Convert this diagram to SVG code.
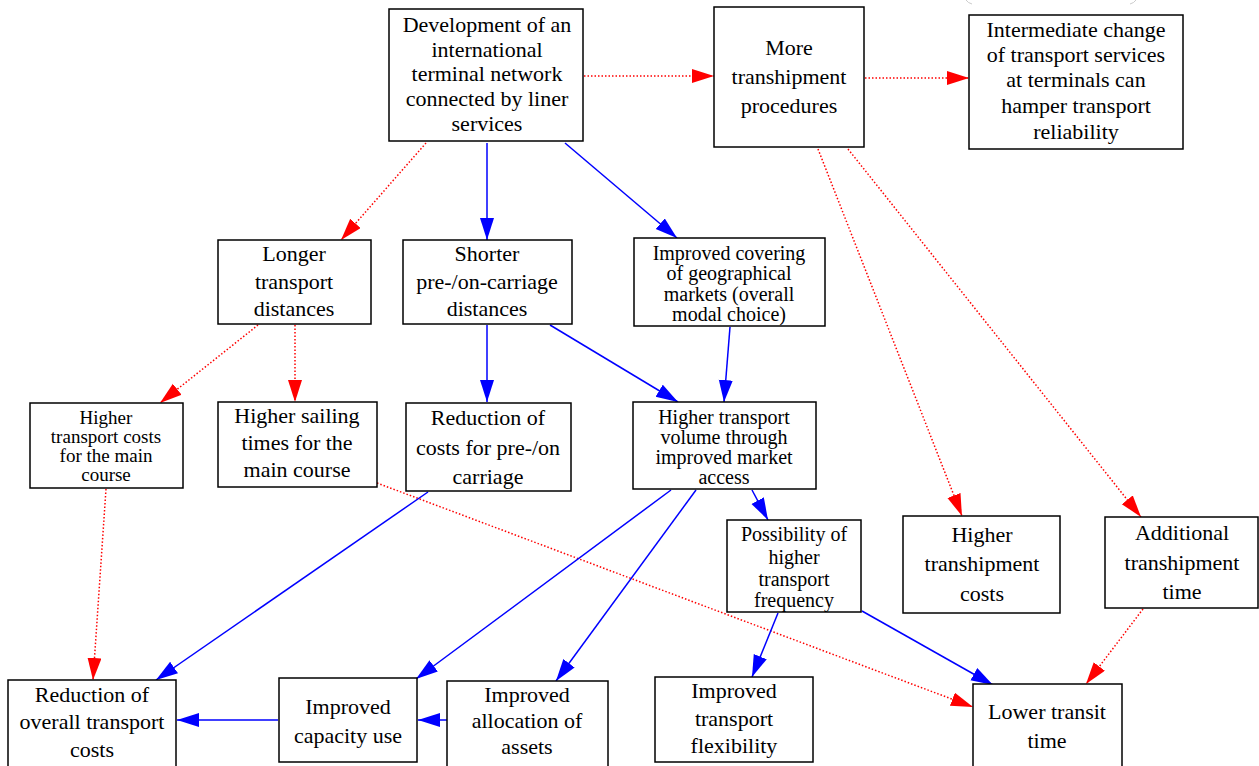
<svg xmlns="http://www.w3.org/2000/svg" width="1259" height="766" viewBox="0 0 1259 766">
  <style>
    .box { fill: #ffffff; stroke: #000000; stroke-width: 1.5; }
    .pos { fill: none; stroke: #0000ff; stroke-width: 1.5; marker-end: url(#headBlue); }
    .neg { fill: none; stroke: #ff0000; stroke-width: 1.5; stroke-dasharray: 1.5 2; marker-end: url(#headRed); }
  </style>
  <defs>
    <marker id="headBlue" markerUnits="userSpaceOnUse" markerWidth="24" markerHeight="16" refX="22" refY="7" orient="auto">
      <path d="M0,0 L22,7 L0,14 Z" fill="#0000ff"/>
    </marker>
    <marker id="headRed" markerUnits="userSpaceOnUse" markerWidth="24" markerHeight="16" refX="22" refY="7" orient="auto">
      <path d="M0,0 L22,7 L0,14 Z" fill="#ff0000"/>
    </marker>
  </defs>
  <rect width="1259" height="766" fill="#ffffff"/>

  <!-- clipped bracket marks at the top edge -->
  <path d="M966,0 Q968,3 972,4 M1136,0 Q1134,3 1130,4" fill="none" stroke="#cccccc" stroke-width="1"/>

  <g id="connectors">
    <!-- negative effects (red dotted) -->
    <path class="neg" d="M584,76 L714,76"/>
    <path class="neg" d="M865,78 L969,78"/>
    <path class="neg" d="M426,143 L341,240"/>
    <path class="neg" d="M818,149 L962,516"/>
    <path class="neg" d="M848,149 L1141,517"/>
    <path class="neg" d="M258,325 L160,403"/>
    <path class="neg" d="M295,325 L295,402"/>
    <path class="neg" d="M106,489 L93,680"/>
    <path class="neg" d="M377,483 L973,707"/>
    <path class="neg" d="M1143,609 L1086,684"/>
    <!-- positive effects (blue) -->
    <path class="pos" d="M487,143 L487,240"/>
    <path class="pos" d="M565,143 L677,238"/>
    <path class="pos" d="M487,325 L487,402"/>
    <path class="pos" d="M550,325 L678,402"/>
    <path class="pos" d="M730,327 L724,402"/>
    <path class="pos" d="M752,490 L768,520"/>
    <path class="pos" d="M428,492 L156,680"/>
    <path class="pos" d="M671,490 L416,679"/>
    <path class="pos" d="M696,490 L556,681"/>
    <path class="pos" d="M778,613 L752,677"/>
    <path class="pos" d="M862,611 L993,685"/>
    <path class="pos" d="M278,720 L177,720"/>
    <path class="pos" d="M447,720 L418,720"/>
  </g>

  <g id="nodes" font-family="Liberation Serif, Tinos, Times New Roman, DejaVu Serif, serif" font-size="22" fill="#000000" text-anchor="middle">
  <g id="n-development">
    <rect class="box" x="389" y="9" width="194" height="132"/>
    <text x="487" y="32">Development of an</text>
    <text x="487" y="57">international</text>
    <text x="487" y="81">terminal network</text>
    <text x="487" y="106">connected by liner</text>
    <text x="487" y="131">services</text>
  </g>
  <g id="n-more-transhipment">
    <rect class="box" x="714" y="7" width="150" height="140"/>
    <text x="789" y="55">More</text>
    <text x="789" y="84">transhipment</text>
    <text x="789" y="113">procedures</text>
  </g>
  <g id="n-intermediate-change">
    <rect class="box" x="969" y="15" width="214" height="134"/>
    <text x="1076" y="37">Intermediate change</text>
    <text x="1076" y="62">of transport services</text>
    <text x="1076" y="87">at terminals can</text>
    <text x="1076" y="113">hamper transport</text>
    <text x="1076" y="139">reliability</text>
  </g>
  <g id="n-longer-distances">
    <rect class="box" x="218" y="240" width="153" height="84"/>
    <text x="294" y="261">Longer</text>
    <text x="294" y="289">transport</text>
    <text x="294" y="316">distances</text>
  </g>
  <g id="n-shorter-carriage">
    <rect class="box" x="403" y="240" width="169" height="84"/>
    <text x="487" y="261">Shorter</text>
    <text x="487" y="289">pre-/on-carriage</text>
    <text x="487" y="316">distances</text>
  </g>
  <g id="n-geographical-markets" font-size="20">
    <rect class="box" x="634" y="238" width="191" height="88"/>
    <text x="729" y="260">Improved covering</text>
    <text x="729" y="280">of geographical</text>
    <text x="729" y="301">markets (overall</text>
    <text x="729" y="321">modal choice)</text>
  </g>
  <g id="n-higher-costs-main" font-size="19">
    <rect class="box" x="30" y="403" width="153" height="85"/>
    <text x="106" y="424">Higher</text>
    <text x="106" y="443">transport costs</text>
    <text x="106" y="462">for the main</text>
    <text x="106" y="481">course</text>
  </g>
  <g id="n-higher-sailing">
    <rect class="box" x="218" y="402" width="159" height="85"/>
    <text x="297" y="423">Higher sailing</text>
    <text x="297" y="450">times for the</text>
    <text x="297" y="477">main course</text>
  </g>
  <g id="n-reduction-pre-on">
    <rect class="box" x="406" y="403" width="165" height="88"/>
    <text x="488" y="425">Reduction of</text>
    <text x="488" y="455">costs for pre-/on</text>
    <text x="488" y="484">carriage</text>
  </g>
  <g id="n-higher-volume" font-size="20">
    <rect class="box" x="633" y="402" width="183" height="87"/>
    <text x="724" y="424">Higher transport</text>
    <text x="724" y="444">volume through</text>
    <text x="724" y="464">improved market</text>
    <text x="724" y="484">access</text>
  </g>
  <g id="n-higher-frequency" font-size="20">
    <rect class="box" x="727" y="520" width="134" height="92"/>
    <text x="794" y="541">Possibility of</text>
    <text x="794" y="564">higher</text>
    <text x="794" y="586">transport</text>
    <text x="794" y="607">frequency</text>
  </g>
  <g id="n-transhipment-costs">
    <rect class="box" x="903" y="516" width="157" height="97"/>
    <text x="982" y="542">Higher</text>
    <text x="982" y="571">transhipment</text>
    <text x="982" y="601">costs</text>
  </g>
  <g id="n-transhipment-time">
    <rect class="box" x="1105" y="517" width="153" height="91"/>
    <text x="1182" y="540">Additional</text>
    <text x="1182" y="570">transhipment</text>
    <text x="1182" y="599">time</text>
  </g>
  <g id="n-reduction-overall">
    <rect class="box" x="8" y="680" width="168" height="90"/>
    <text x="92" y="702">Reduction of</text>
    <text x="92" y="729">overall transport</text>
    <text x="92" y="757">costs</text>
  </g>
  <g id="n-capacity-use">
    <rect class="box" x="279" y="678" width="138" height="84"/>
    <text x="348" y="714">Improved</text>
    <text x="348" y="743">capacity use</text>
  </g>
  <g id="n-allocation-assets">
    <rect class="box" x="447" y="681" width="161" height="89"/>
    <text x="527" y="702">Improved</text>
    <text x="527" y="728">allocation of</text>
    <text x="527" y="754">assets</text>
  </g>
  <g id="n-flexibility">
    <rect class="box" x="655" y="677" width="158" height="85"/>
    <text x="734" y="698">Improved</text>
    <text x="734" y="726">transport</text>
    <text x="734" y="753">flexibility</text>
  </g>
  <g id="n-transit-time">
    <rect class="box" x="973" y="684" width="149" height="90"/>
    <text x="1047" y="719">Lower transit</text>
    <text x="1047" y="748">time</text>
  </g>
  </g>
</svg>
